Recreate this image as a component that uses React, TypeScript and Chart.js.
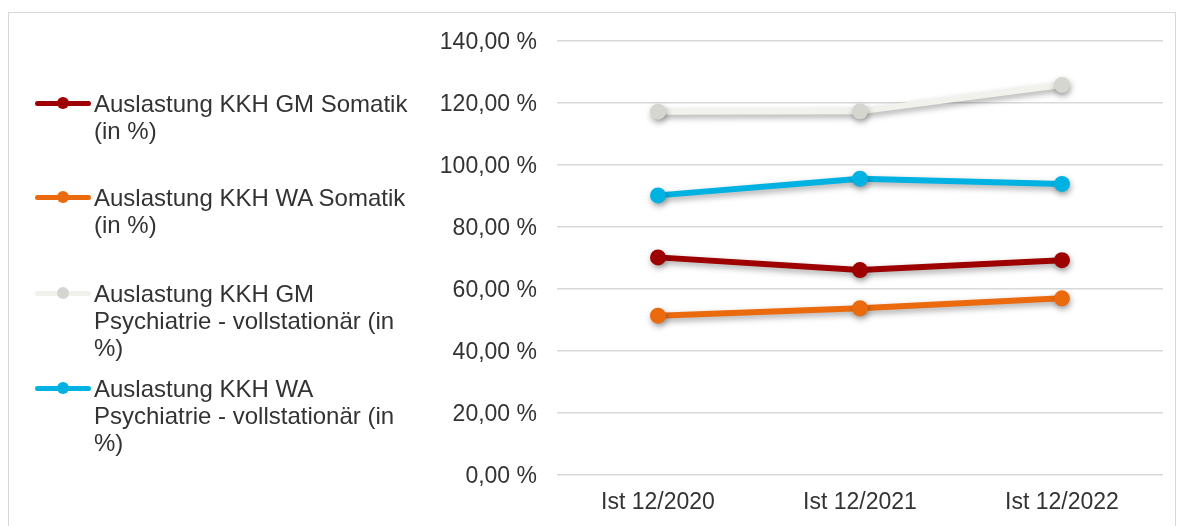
import React, { useEffect, useRef } from "react";
import { Chart, registerables } from "chart.js";

Chart.register(...registerables);

const categories = ["Ist 12/2020", "Ist 12/2021", "Ist 12/2022"];
const seriesNames = [
  "Auslastung KKH GM Somatik (in %)",
  "Auslastung KKH WA Somatik (in %)",
  "Auslastung KKH GM Psychiatrie - vollstationär (in %)",
  "Auslastung KKH WA Psychiatrie - vollstationär (in %)",
];
const gmSomatik = [70.2, 66.1, 69.3];
const waSomatik = [51.4, 53.8, 57.0];
const gmPsychiatrie = [117.2, 117.3, 125.8];
const waPsychiatrie = [90.2, 95.6, 93.9];
const lineColors = ["#9E0000", "#EC6A0E", "#F2F2EC", "#00B2E2"];
const pointColors = ["#9E0000", "#EC6A0E", "#D6D6D1", "#00B2E2"];
const yTicks = [0, 20, 40, 60, 80, 100, 120, 140];

const FONT = "'Liberation Sans', Arial, sans-serif";

const shadowPlugin = {
  id: "shadowPlugin",
  beforeDatasetsDraw(chart: any) {
    const ctx = chart.ctx;
    ctx.save();
    ctx.shadowColor = "rgba(0,0,0,0.35)";
    ctx.shadowBlur = 6;
    ctx.shadowOffsetX = 1;
    ctx.shadowOffsetY = 3;
  },
  afterDatasetsDraw(chart: any) {
    chart.ctx.restore();
  },
};

const legendTops = [89.5, 183.5, 279.5, 374.5];

export default function App() {
  const ref = useRef<HTMLCanvasElement>(null);
  useEffect(() => {
    const values = [gmSomatik, waSomatik, gmPsychiatrie, waPsychiatrie];
    const chart = new Chart(ref.current!, {
      type: "line",
      data: {
        labels: categories,
        datasets: values.map((v, i) => ({
          label: seriesNames[i],
          data: v,
          borderColor: lineColors[i],
          backgroundColor: pointColors[i],
          pointBackgroundColor: pointColors[i],
          pointBorderColor: pointColors[i],
          borderWidth: 6,
          pointRadius: 8,
          pointBorderWidth: 0,
          borderCapStyle: "round",
          borderJoinStyle: "round",
          tension: 0,
        })),
      },
      plugins: [shadowPlugin],
      options: {
        animation: false,
        responsive: false,
        maintainAspectRatio: false,
        layout: { padding: { left: 420, top: 41, right: 18, bottom: 0 } },
        plugins: {
          legend: { display: false },
          tooltip: { enabled: false },
        },
        scales: {
          x: {
            offset: true,
            grid: { display: false },
            border: { display: false },
            ticks: {
              color: "#333333",
              font: { family: FONT, size: 23 },
              padding: 6,
              maxRotation: 0,
            },
            afterFit(scale: any) {
              scale.height = 51;
            },
          },
          y: {
            min: 0,
            max: 140,
            afterBuildTicks(scale: any) {
              scale.ticks = yTicks.map((v) => ({ value: v }));
            },
            grid: { color: "#D9D9D9", lineWidth: 1.5, drawTicks: false },
            border: { display: false },
            ticks: {
              color: "#333333",
              font: { family: FONT, size: 23 },
              padding: 20,
              labelOffset: 2,
              callback: (v: any) => Number(v).toFixed(2).replace(".", ",") + " %",
            },
            afterFit(scale: any) {
              scale.width = 137;
            },
          },
        },
      },
    });
    return () => chart.destroy();
  }, []);

  return (
    <div style={{ position: "fixed", left: 0, top: 0, width: 1181, height: 526, background: "#fff", overflow: "hidden" }}>
      <div
        style={{
          position: "absolute",
          left: 8,
          top: 12,
          width: 1168,
          height: 530,
          border: "1.5px solid #D9D9D9",
          boxSizing: "border-box",
        }}
      />
      <canvas ref={ref} width={1181} height={526} style={{ position: "absolute", left: 0, top: 0 }} />
      {seriesNames.map((name, i) => (
        <div key={i} style={{ position: "absolute", left: 0, top: legendTops[i] }}>
          <div
            style={{
              position: "absolute",
              left: 35,
              top: 11,
              width: 56,
              height: 5,
              borderRadius: 3,
              background: lineColors[i],
            }}
          />
          <div
            style={{
              position: "absolute",
              left: 57,
              top: 7.5,
              width: 12,
              height: 12,
              borderRadius: 6,
              background: pointColors[i],
            }}
          />
          <div
            style={{
              position: "absolute",
              left: 94,
              top: 0,
              width: 322,
              fontFamily: FONT,
              fontSize: 24,
              lineHeight: "27px",
              color: "#333333",
            }}
          >
            {name}
          </div>
        </div>
      ))}
    </div>
  );
}
